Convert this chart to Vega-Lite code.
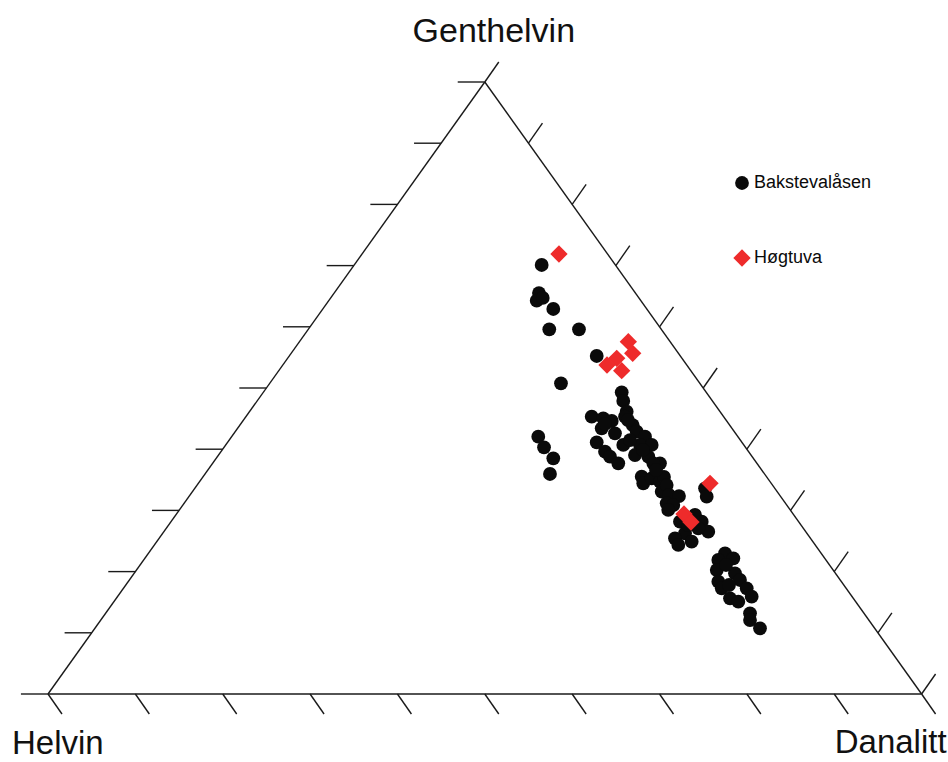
{
  "$schema": "https://vega.github.io/schema/vega-lite/v6.json",
  "width": 948,
  "height": 762,
  "autosize": {"type": "none"},
  "padding": 0,
  "background": "white",
  "config": {
    "view": {"stroke": null},
    "font": "Liberation Sans"
  },
  "datasets": {
    "frame": [
      {"x": 0, "y": 0, "x2": 100, "y2": 0},
      {"x": 100, "y": 0, "x2": 50, "y2": 100},
      {"x": 50, "y": 100, "x2": 0, "y2": 0},
      {"x": 0, "y": 0, "x2": -3.1, "y2": 0},
      {"x": 5, "y": 10, "x2": 1.9, "y2": 10},
      {"x": 10, "y": 20, "x2": 6.9, "y2": 20},
      {"x": 15, "y": 30, "x2": 11.9, "y2": 30},
      {"x": 20, "y": 40, "x2": 16.9, "y2": 40},
      {"x": 25, "y": 50, "x2": 21.9, "y2": 50},
      {"x": 30, "y": 60, "x2": 26.9, "y2": 60},
      {"x": 35, "y": 70, "x2": 31.9, "y2": 70},
      {"x": 40, "y": 80, "x2": 36.9, "y2": 80},
      {"x": 45, "y": 90, "x2": 41.9, "y2": 90},
      {"x": 50, "y": 100, "x2": 46.9, "y2": 100},
      {"x": 0, "y": 0, "x2": 1.6, "y2": -3.27},
      {"x": 10, "y": 0, "x2": 11.6, "y2": -3.27},
      {"x": 20, "y": 0, "x2": 21.6, "y2": -3.27},
      {"x": 30, "y": 0, "x2": 31.6, "y2": -3.27},
      {"x": 40, "y": 0, "x2": 41.6, "y2": -3.27},
      {"x": 50, "y": 0, "x2": 51.6, "y2": -3.27},
      {"x": 60, "y": 0, "x2": 61.6, "y2": -3.27},
      {"x": 70, "y": 0, "x2": 71.6, "y2": -3.27},
      {"x": 80, "y": 0, "x2": 81.6, "y2": -3.27},
      {"x": 90, "y": 0, "x2": 91.6, "y2": -3.27},
      {"x": 100, "y": 0, "x2": 101.6, "y2": -3.27},
      {"x": 100, "y": 0, "x2": 101.6, "y2": 3.27},
      {"x": 95, "y": 10, "x2": 96.6, "y2": 13.27},
      {"x": 90, "y": 20, "x2": 91.6, "y2": 23.27},
      {"x": 85, "y": 30, "x2": 86.6, "y2": 33.27},
      {"x": 80, "y": 40, "x2": 81.6, "y2": 43.27},
      {"x": 75, "y": 50, "x2": 76.6, "y2": 53.27},
      {"x": 70, "y": 60, "x2": 71.6, "y2": 63.27},
      {"x": 65, "y": 70, "x2": 66.6, "y2": 73.27},
      {"x": 60, "y": 80, "x2": 61.6, "y2": 83.27},
      {"x": 55, "y": 90, "x2": 56.6, "y2": 93.27},
      {"x": 50, "y": 100, "x2": 51.6, "y2": 103.27}
    ],
    "vertices": [
      {"label": "Genthelvin", "x": 50, "y": 100},
      {"label": "Helvin", "x": 0, "y": 0},
      {"label": "Danalitt", "x": 100, "y": 0}
    ],
    "points": [
      {"site": "Bakstevalåsen", "x": 56.51, "y": 70.10},
      {"site": "Bakstevalåsen", "x": 56.20, "y": 65.52},
      {"site": "Bakstevalåsen", "x": 55.94, "y": 64.26},
      {"site": "Bakstevalåsen", "x": 56.63, "y": 64.71},
      {"site": "Bakstevalåsen", "x": 57.84, "y": 62.91},
      {"site": "Bakstevalåsen", "x": 57.38, "y": 59.59},
      {"site": "Bakstevalåsen", "x": 60.78, "y": 59.59},
      {"site": "Bakstevalåsen", "x": 62.81, "y": 55.23},
      {"site": "Bakstevalåsen", "x": 58.72, "y": 50.77},
      {"site": "Bakstevalåsen", "x": 65.67, "y": 49.30},
      {"site": "Bakstevalåsen", "x": 65.85, "y": 47.88},
      {"site": "Bakstevalåsen", "x": 66.24, "y": 46.13},
      {"site": "Bakstevalåsen", "x": 66.05, "y": 45.31},
      {"site": "Bakstevalåsen", "x": 66.93, "y": 43.95},
      {"site": "Bakstevalåsen", "x": 67.39, "y": 42.86},
      {"site": "Bakstevalåsen", "x": 68.34, "y": 42.04},
      {"site": "Bakstevalåsen", "x": 67.77, "y": 40.69},
      {"site": "Bakstevalåsen", "x": 69.10, "y": 40.69},
      {"site": "Bakstevalåsen", "x": 68.72, "y": 38.77},
      {"site": "Bakstevalåsen", "x": 70.05, "y": 37.70},
      {"site": "Bakstevalåsen", "x": 69.29, "y": 37.70},
      {"site": "Bakstevalåsen", "x": 62.24, "y": 45.31},
      {"site": "Bakstevalåsen", "x": 63.56, "y": 45.05},
      {"site": "Bakstevalåsen", "x": 64.53, "y": 44.61},
      {"site": "Bakstevalåsen", "x": 63.38, "y": 43.42},
      {"site": "Bakstevalåsen", "x": 64.90, "y": 42.60},
      {"site": "Bakstevalåsen", "x": 65.85, "y": 40.69},
      {"site": "Bakstevalåsen", "x": 62.81, "y": 41.13},
      {"site": "Bakstevalåsen", "x": 63.76, "y": 39.59},
      {"site": "Bakstevalåsen", "x": 64.33, "y": 38.77},
      {"site": "Bakstevalåsen", "x": 65.28, "y": 37.70},
      {"site": "Bakstevalåsen", "x": 67.19, "y": 39.05},
      {"site": "Bakstevalåsen", "x": 67.96, "y": 35.51},
      {"site": "Bakstevalåsen", "x": 68.14, "y": 34.43},
      {"site": "Bakstevalåsen", "x": 69.10, "y": 35.25},
      {"site": "Bakstevalåsen", "x": 70.05, "y": 34.69},
      {"site": "Bakstevalåsen", "x": 70.51, "y": 35.46},
      {"site": "Bakstevalåsen", "x": 70.25, "y": 33.06},
      {"site": "Bakstevalåsen", "x": 70.82, "y": 34.15},
      {"site": "Bakstevalåsen", "x": 71.09, "y": 32.52},
      {"site": "Bakstevalåsen", "x": 72.23, "y": 32.35},
      {"site": "Bakstevalåsen", "x": 70.82, "y": 31.16},
      {"site": "Bakstevalåsen", "x": 71.58, "y": 30.88},
      {"site": "Bakstevalåsen", "x": 71.00, "y": 30.07},
      {"site": "Bakstevalåsen", "x": 75.21, "y": 33.61},
      {"site": "Bakstevalåsen", "x": 75.40, "y": 32.24},
      {"site": "Bakstevalåsen", "x": 72.34, "y": 28.15},
      {"site": "Bakstevalåsen", "x": 74.06, "y": 29.25},
      {"site": "Bakstevalåsen", "x": 74.83, "y": 28.15},
      {"site": "Bakstevalåsen", "x": 75.58, "y": 26.52},
      {"site": "Bakstevalåsen", "x": 74.44, "y": 27.08},
      {"site": "Bakstevalåsen", "x": 72.92, "y": 26.26},
      {"site": "Bakstevalåsen", "x": 71.77, "y": 25.44},
      {"site": "Bakstevalåsen", "x": 72.15, "y": 24.35},
      {"site": "Bakstevalåsen", "x": 73.68, "y": 24.89},
      {"site": "Bakstevalåsen", "x": 77.50, "y": 22.99},
      {"site": "Bakstevalåsen", "x": 76.73, "y": 21.90},
      {"site": "Bakstevalåsen", "x": 78.45, "y": 22.17},
      {"site": "Bakstevalåsen", "x": 76.55, "y": 20.26},
      {"site": "Bakstevalåsen", "x": 78.64, "y": 19.72},
      {"site": "Bakstevalåsen", "x": 76.73, "y": 18.35},
      {"site": "Bakstevalåsen", "x": 79.21, "y": 18.63},
      {"site": "Bakstevalåsen", "x": 77.12, "y": 17.27},
      {"site": "Bakstevalåsen", "x": 79.98, "y": 17.27},
      {"site": "Bakstevalåsen", "x": 80.55, "y": 15.90},
      {"site": "Bakstevalåsen", "x": 78.07, "y": 15.64},
      {"site": "Bakstevalåsen", "x": 79.02, "y": 15.08},
      {"site": "Bakstevalåsen", "x": 80.36, "y": 13.19},
      {"site": "Bakstevalåsen", "x": 80.36, "y": 12.09},
      {"site": "Bakstevalåsen", "x": 81.50, "y": 10.74},
      {"site": "Bakstevalåsen", "x": 56.12, "y": 42.04},
      {"site": "Bakstevalåsen", "x": 56.78, "y": 40.31},
      {"site": "Bakstevalåsen", "x": 57.84, "y": 38.51},
      {"site": "Bakstevalåsen", "x": 57.46, "y": 35.95},
      {"site": "Bakstevalåsen", "x": 66.39, "y": 44.77},
      {"site": "Bakstevalåsen", "x": 68.11, "y": 39.87},
      {"site": "Bakstevalåsen", "x": 69.60, "y": 36.60},
      {"site": "Bakstevalåsen", "x": 73.26, "y": 27.61},
      {"site": "Bakstevalåsen", "x": 77.61, "y": 21.08},
      {"site": "Bakstevalåsen", "x": 77.95, "y": 17.81},
      {"site": "Bakstevalåsen", "x": 63.76, "y": 44.12},
      {"site": "Bakstevalåsen", "x": 66.62, "y": 41.50},
      {"site": "Høgtuva", "x": 58.49, "y": 71.90},
      {"site": "Høgtuva", "x": 66.43, "y": 57.57},
      {"site": "Høgtuva", "x": 66.93, "y": 55.67},
      {"site": "Høgtuva", "x": 65.10, "y": 54.85},
      {"site": "Høgtuva", "x": 63.99, "y": 53.76},
      {"site": "Høgtuva", "x": 65.67, "y": 52.83},
      {"site": "Høgtuva", "x": 75.78, "y": 34.43},
      {"site": "Høgtuva", "x": 72.80, "y": 29.41},
      {"site": "Høgtuva", "x": 73.60, "y": 28.10}
    ]
  },
  "encoding": {
    "x": {"field": "x", "type": "quantitative", "axis": null, "scale": {"domain": [-5.495, 103.022], "nice": false, "zero": false}},
    "y": {"field": "y", "type": "quantitative", "axis": null, "scale": {"domain": [-11.111, 113.399], "nice": false, "zero": false}}
  },
  "layer": [
    {
      "data": {"name": "frame"},
      "mark": {"type": "rule", "color": "#1a1a1a", "strokeWidth": 1.4},
      "encoding": {
        "x2": {"field": "x2"},
        "y2": {"field": "y2"}
      }
    },
    {
      "data": {"name": "vertices"},
      "transform": [{"filter": "datum.label == 'Genthelvin'"}],
      "mark": {"type": "text", "font": "Liberation Sans", "fontSize": 34, "color": "#111111", "align": "center", "baseline": "alphabetic", "dx": 9, "dy": -40},
      "encoding": {"text": {"field": "label"}}
    },
    {
      "data": {"name": "vertices"},
      "transform": [{"filter": "datum.label == 'Helvin'"}],
      "mark": {"type": "text", "font": "Liberation Sans", "fontSize": 33, "color": "#111111", "align": "left", "baseline": "alphabetic", "dx": -36, "dy": 60},
      "encoding": {"text": {"field": "label"}}
    },
    {
      "data": {"name": "vertices"},
      "transform": [{"filter": "datum.label == 'Danalitt'"}],
      "mark": {"type": "text", "font": "Liberation Sans", "fontSize": 33, "color": "#111111", "align": "right", "baseline": "alphabetic", "dx": 25, "dy": 59},
      "encoding": {"text": {"field": "label"}}
    },
    {
      "data": {"name": "points"},
      "mark": {"type": "point", "filled": true, "opacity": 1, "strokeWidth": 0},
      "encoding": {
        "color": {
          "field": "site", "type": "nominal",
          "scale": {"domain": ["Bakstevalåsen", "Høgtuva"], "range": ["#0a0a0a", "#ee2b2b"]},
          "legend": {
            "orient": "none", "legendX": 733, "legendY": 174, "title": null,
            "labelFont": "Liberation Sans", "labelFontSize": 18, "labelColor": "#0a0a0a",
            "labelOffset": 3, "symbolSize": 85, "symbolStrokeWidth": 0,
            "rowPadding": 57, "padding": 0
          }
        },
        "shape": {
          "field": "site", "type": "nominal",
          "scale": {"domain": ["Bakstevalåsen", "Høgtuva"], "range": ["circle", "diamond"]},
          "legend": {
            "orient": "none", "legendX": 733, "legendY": 174, "title": null,
            "labelFont": "Liberation Sans", "labelFontSize": 18, "labelColor": "#0a0a0a",
            "labelOffset": 3, "symbolSize": 85, "symbolStrokeWidth": 0,
            "rowPadding": 57, "padding": 0
          }
        },
        "size": {"field": "site", "type": "nominal", "scale": {"domain": ["Bakstevalåsen", "Høgtuva"], "range": [190, 300]}, "legend": null},
        "order": {"field": "site", "sort": "ascending"}
      }
    }
  ]
}
